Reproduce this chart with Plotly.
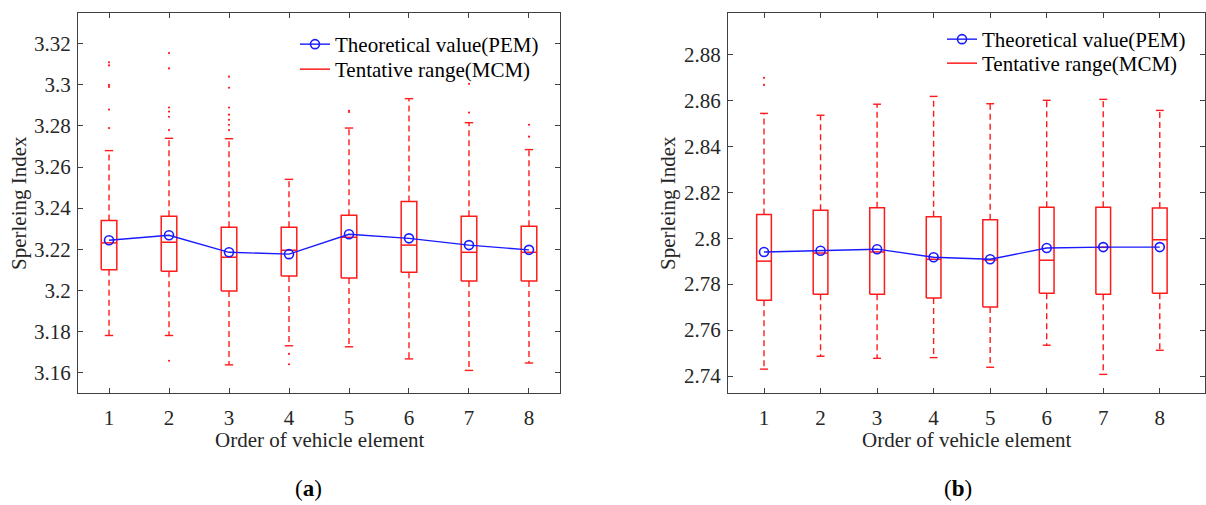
import plotly.graph_objects as go

# ---------------- data ----------------
cats = [1, 2, 3, 4, 5, 6, 7, 8]

a_pem = [3.2244, 3.2268, 3.2185, 3.2176, 3.2273, 3.2253, 3.2220, 3.2197]
a_q3 = [3.2340, 3.2360, 3.2307, 3.2307, 3.2365, 3.2432, 3.2360, 3.2312]
a_med = [3.2231, 3.2234, 3.2161, 3.2195, 3.2258, 3.2220, 3.2185, 3.2185]
a_q1 = [3.2100, 3.2093, 3.1996, 3.2069, 3.2060, 3.2088, 3.2045, 3.2045]
a_hi = [3.2680, 3.2740, 3.2738, 3.2540, 3.2790, 3.2933, 3.2816, 3.2685]
a_lo = [3.1780, 3.1780, 3.1637, 3.1730, 3.1725, 3.1666, 3.1610, 3.1646]
a_out = [
    [3.3110, 3.3095, 3.3000, 3.2990, 3.2880, 3.2790],
    [3.3155, 3.3080, 3.2890, 3.2870, 3.2845, 3.2780, 3.1657],
    [3.3040, 3.2986, 3.2890, 3.2855, 3.2830, 3.2806, 3.2780],
    [3.1690, 3.1640],
    [3.2874, 3.2868],
    [],
    [3.3005, 3.2865],
    [3.2806, 3.2748],
]

b_pem = [2.7940, 2.7945, 2.7952, 2.7917, 2.7908, 2.7957, 2.7961, 2.7961]
b_q3 = [2.8103, 2.8121, 2.8132, 2.8093, 2.8080, 2.8135, 2.8135, 2.8131]
b_med = [2.7900, 2.7935, 2.7940, 2.7908, 2.7905, 2.7904, 2.7960, 2.7993]
b_q1 = [2.7730, 2.7756, 2.7756, 2.7739, 2.7700, 2.7760, 2.7756, 2.7760]
b_hi = [2.8543, 2.8535, 2.8583, 2.8617, 2.8585, 2.8600, 2.8604, 2.8556]
b_lo = [2.7430, 2.7486, 2.7477, 2.7480, 2.7438, 2.7534, 2.7407, 2.7512]
b_out = [[2.8698, 2.8667], [], [], [], [], [], [], []]

a_ticks = [3.16, 3.18, 3.20, 3.22, 3.24, 3.26, 3.28, 3.30, 3.32]
a_ticktext = ["3.16", "3.18", "3.2", "3.22", "3.24", "3.26", "3.28", "3.3", "3.32"]
b_ticks = [2.74, 2.76, 2.78, 2.80, 2.82, 2.84, 2.86, 2.88]
b_ticktext = ["2.74", "2.76", "2.78", "2.8", "2.82", "2.84", "2.86", "2.88"]

pem_name = "Theoretical value(PEM)"
mcm_name = "Tentative range(MCM)"
y_title = "Sperleing Index"
x_title = "Order of vehicle element"

# ---------------- style ----------------
RED = "#ff1a1a"
BLUE = "#1a1aff"
AX = "#404040"
TXT = "#262626"
FONT = "Liberation Serif"
FS = 21
BOX_HW = 0.13
CAP_HW = 0.07

fig = go.Figure()


def add_panel(xa, ya, leg_pem, leg_mcm, pem, q3, med, q1, hi, lo, outs):
    bx, by = [], []
    wx, wy = [], []
    cx, cy = [], []
    ox, oy = [], []
    for i, c in enumerate(cats):
        bx += [c - BOX_HW, c + BOX_HW, c + BOX_HW, c - BOX_HW, c - BOX_HW, None,
               c - BOX_HW, c + BOX_HW, None]
        by += [q1[i], q1[i], q3[i], q3[i], q1[i], None, med[i], med[i], None]
        wx += [c, c, None, c, c, None]
        wy += [q3[i], hi[i], None, q1[i], lo[i], None]
        cx += [c - CAP_HW, c + CAP_HW, None, c - CAP_HW, c + CAP_HW, None]
        cy += [hi[i], hi[i], None, lo[i], lo[i], None]
        for v in outs[i]:
            ox.append(c)
            oy.append(v)
    fig.add_trace(go.Scatter(x=wx, y=wy, mode="lines", xaxis=xa, yaxis=ya,
                             line=dict(color=RED, width=1.4, dash="6px,4px"),
                             showlegend=False, hoverinfo="skip"))
    fig.add_trace(go.Scatter(x=cx, y=cy, mode="lines", xaxis=xa, yaxis=ya,
                             line=dict(color=RED, width=1.4),
                             showlegend=False, hoverinfo="skip"))
    fig.add_trace(go.Scatter(x=ox, y=oy, mode="markers", xaxis=xa, yaxis=ya,
                             marker=dict(color=RED, size=2.2, symbol="circle"),
                             showlegend=False, hoverinfo="skip"))
    fig.add_trace(go.Scatter(x=bx, y=by, mode="lines", xaxis=xa, yaxis=ya,
                             line=dict(color=RED, width=1.5), name=mcm_name,
                             legend=leg_mcm))
    fig.add_trace(go.Scatter(x=cats, y=pem, mode="lines+markers", xaxis=xa, yaxis=ya,
                             line=dict(color=BLUE, width=1.4),
                             marker=dict(symbol="circle-open", size=9, color=BLUE,
                                         line=dict(width=1.6, color=BLUE)),
                             name=pem_name, legend=leg_pem))


add_panel("x", "y", "legend", "legend2", a_pem, a_q3, a_med, a_q1, a_hi, a_lo, a_out)
add_panel("x2", "y2", "legend3", "legend4", b_pem, b_q3, b_med, b_q1, b_hi, b_lo, b_out)

W, H = 1206, 505
xl = (78 / W, 560 / W)
xr = (728 / W, 1205 / W)
yd = (1 - 393 / H, 1 - 13 / H)

axis_common = dict(showline=True, linecolor=AX, linewidth=1.3, mirror="ticks",
                   ticks="inside", ticklen=5, tickcolor=AX, tickwidth=1.2,
                   showgrid=False, zeroline=False,
                   tickfont=dict(family=FONT, size=FS, color=TXT))


def leg(xpx, ytop):
    return dict(x=xpx / W, y=1 - ytop / H, xanchor="left", yanchor="top",
                bgcolor="rgba(255,255,255,0)", borderwidth=0,
                font=dict(family=FONT, size=FS, color="black"))


fig.update_layout(
    width=W, height=H,
    margin=dict(l=0, r=0, t=0, b=0),
    paper_bgcolor="white", plot_bgcolor="white",
    font=dict(family=FONT, size=FS, color=TXT),
    xaxis=dict(domain=xl, range=[0.483, 8.517], tickvals=cats, anchor="y",
               ticklabelstandoff=6, **axis_common),
    yaxis=dict(domain=yd, range=[3.150, 3.335], tickvals=a_ticks, ticktext=a_ticktext,
               anchor="x", ticklabelstandoff=2, **axis_common),
    xaxis2=dict(domain=xr, range=[0.363, 8.80], tickvals=cats, anchor="y2",
                ticklabelstandoff=6, **axis_common),
    yaxis2=dict(domain=yd, range=[2.7326, 2.898], tickvals=b_ticks, ticktext=b_ticktext,
                anchor="x2", ticklabelstandoff=2, **axis_common),
    legend=leg(295, 24),
    legend2=leg(295, 49),
    legend3=leg(942, 19),
    legend4=leg(942, 43),
    showlegend=True,
)

ann_font = dict(family=FONT, size=FS, color=TXT)
annots = [
    dict(text=y_title, x=19 / W, y=1 - 203 / H, textangle=-90),
    dict(text=y_title, x=668 / W, y=1 - 203 / H, textangle=-90),
    dict(text=x_title, x=319 / W, y=1 - 440 / H),
    dict(text=x_title, x=966 / W, y=1 - 440 / H),
]
for a in annots:
    fig.add_annotation(xref="paper", yref="paper", xanchor="center", yanchor="middle",
                       showarrow=False, font=ann_font, **a)
for txt, xc in [("(<b>a</b>)", 308), ("(<b>b</b>)", 958)]:
    fig.add_annotation(text=txt, xref="paper", yref="paper", x=xc / W, y=1 - 488 / H,
                       xanchor="center", yanchor="middle", showarrow=False,
                       font=dict(family=FONT, size=23, color="black"))

fig.write_html("out.html")
